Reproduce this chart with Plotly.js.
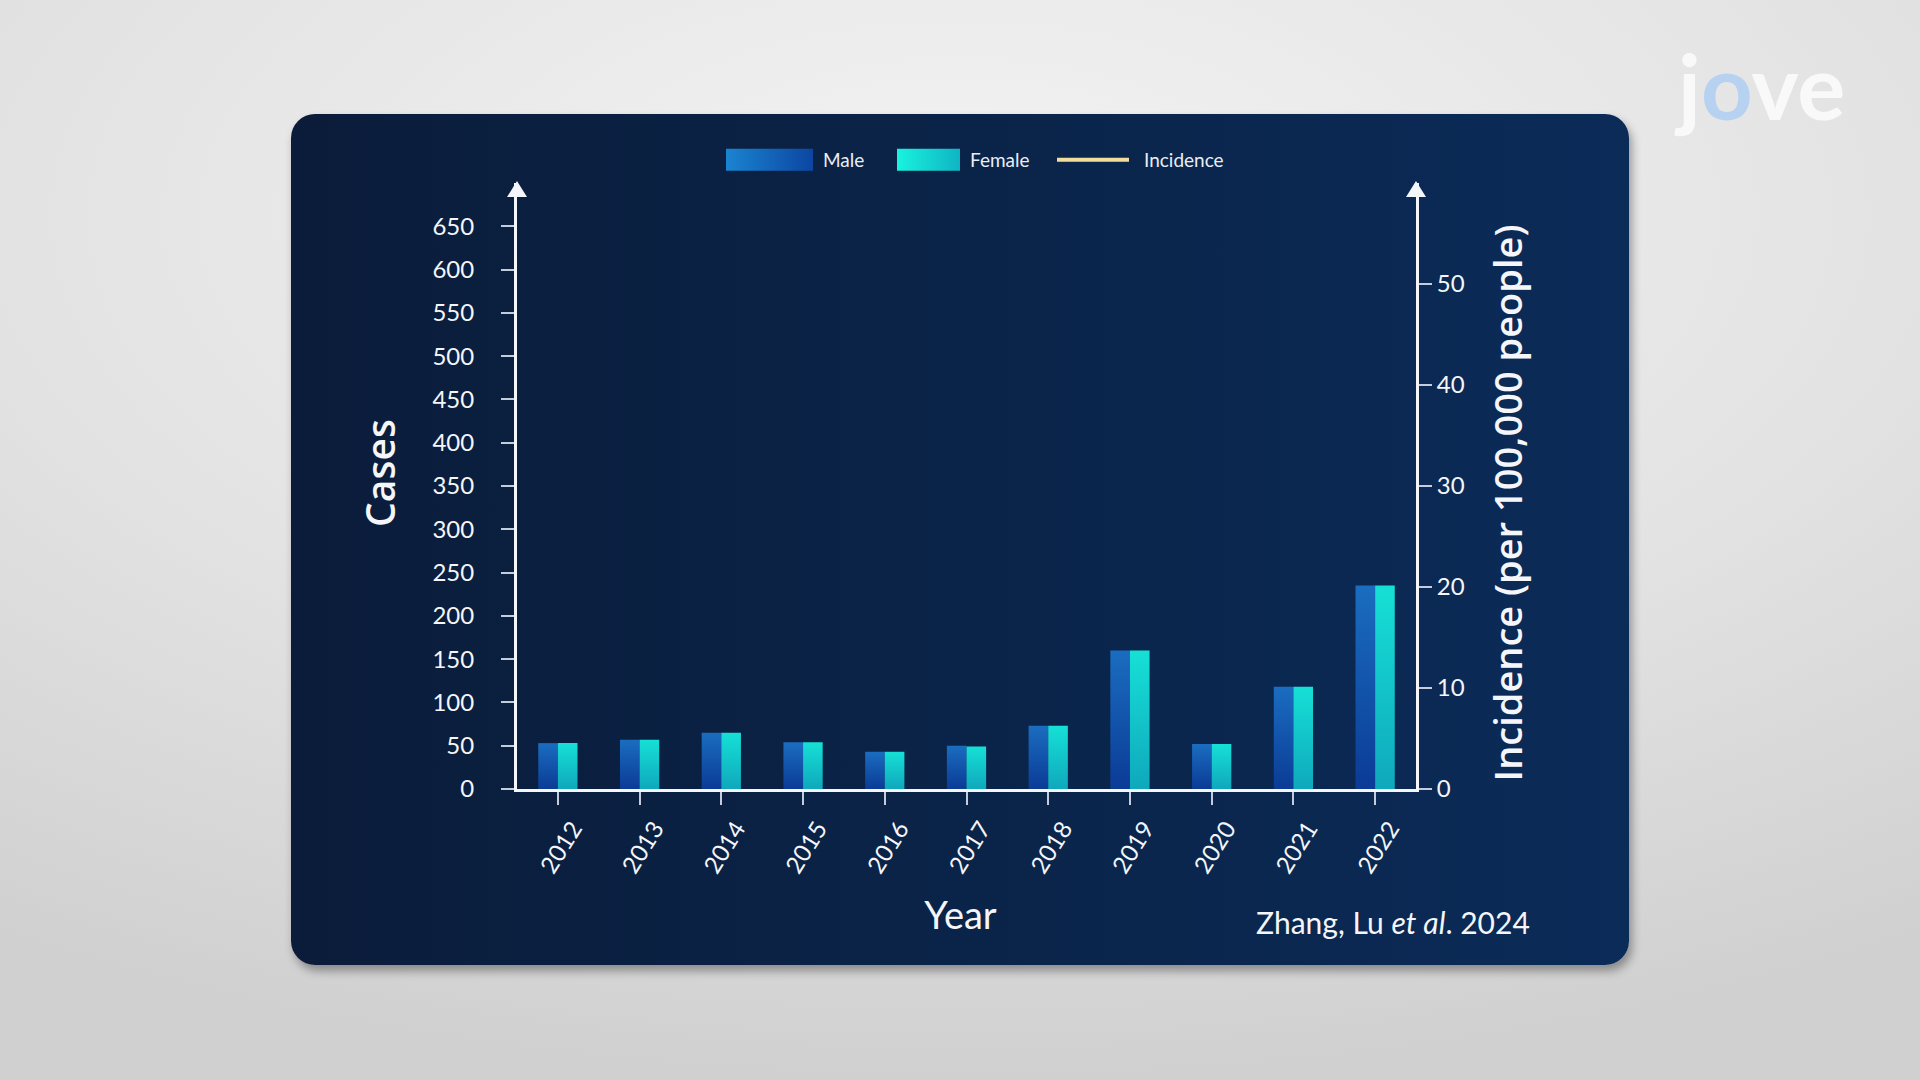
<!DOCTYPE html>
<html><head><meta charset="utf-8">
<script src="https://cdn.plot.ly/plotly-3.0.1.min.js"></script>
<style>
html,body{margin:0;padding:0;width:1920px;height:1080px;overflow:hidden;}
body{background:radial-gradient(ellipse 90% 80% at 50% 20%, #f3f3f3 0%, #e3e3e3 55%, #d0d0d0 100%);}
#card{position:absolute;left:291px;top:114px;width:1338px;height:851px;border-radius:24px;
 background:linear-gradient(90deg,#0b1c3a 0%,#0a2347 45%,#0b2b58 100%);
 box-shadow:3px 6px 10px rgba(0,0,0,0.35);}
#chart{position:absolute;left:0;top:0;width:1920px;height:1080px;}
</style></head>
<body><div id="card"></div><div id="chart"></div>
<script>
// ---- data ----
const years = ['2012','2013','2014','2015','2016','2017','2018','2019','2020','2021','2022'];
const male = [53, 57, 65, 54, 43, 50, 73, 160, 52, 118, 235];
const female = [53, 57, 65, 54, 43, 49, 73, 160, 52, 118, 235];
// the incidence line is not drawn in the reference frame (only its legend entry): no values shown
const incidence = [null, null, null, null, null, null, null, null, null, null, null];
const casesTicks = [0,50,100,150,200,250,300,350,400,450,500,550,600,650];
const incidenceTicks = [0,10,20,30,40,50];

const white = '#f4f6fa';
const tickCol = '#c3cddb';
const lato = 'Lato, "Open Sans", sans-serif';
const osans = '"Open Sans", sans-serif';

const data = [
  {type:'bar', name:'Male', x:years, y:male, yaxis:'y', marker:{color:'#1157ad', line:{width:0}}},
  {type:'bar', name:'Female', x:years, y:female, yaxis:'y', marker:{color:'#12c6cf', line:{width:0}}},
  {type:'scatter', mode:'lines', name:'Incidence', x:years, y:incidence, yaxis:'y2',
   line:{color:'#f3dd9c', width:4}}
];

const layout = {
  width:1920, height:1080,
  paper_bgcolor:'rgba(0,0,0,0)', plot_bgcolor:'rgba(0,0,0,0)',
  margin:{l:517, r:504, t:183, b:291, pad:0},
  barmode:'group', bargap:0.52, bargroupgap:0,
  showlegend:true,
  legend:{orientation:'h', x:0.2258, xanchor:'left', y:1.038, yanchor:'middle',
    font:{family:lato, size:19, color:'#e9eef6'}, itemwidth:80, bgcolor:'rgba(0,0,0,0)', traceorder:'normal'},
  xaxis:{type:'category', range:[-0.5,10.5], showline:true, linecolor:white, linewidth:3,
    ticks:'outside', ticklen:13, tickwidth:2, tickcolor:tickCol, tickangle:-58, ticklabelshift:15,
    tickfont:{family:lato, size:24, color:white}, showgrid:false, zeroline:false,
    title:{text:'Year', font:{family:lato, size:38, color:white}, standoff:26}},
  yaxis:{range:[0,700], tickvals:casesTicks, showline:true, linecolor:white, linewidth:3,
    ticks:'outside', ticklen:13, tickwidth:2, tickcolor:tickCol, ticklabelstandoff:22,
    tickfont:{family:lato, size:24, color:white}, showgrid:false, zeroline:false,
    title:{text:'Cases', font:{family:osans, size:39, weight:600, color:white}, standoff:25}},
  yaxis2:{overlaying:'y', side:'right', range:[0,60], tickvals:incidenceTicks, showline:true, linecolor:white, linewidth:3,
    ticks:'outside', ticklen:13, tickwidth:2, tickcolor:tickCol,
    tickfont:{family:lato, size:24, color:white}, showgrid:false, zeroline:false,
    title:{text:'Incidence (per 100,000 people)', font:{family:osans, size:38, weight:600, color:white}, standoff:26}},
  shapes:[
    {type:'path', xref:'paper', yref:'paper', xsizemode:'pixel', ysizemode:'pixel', xanchor:0, yanchor:1,
     path:'M-10,-14 L10,-14 L0,2 Z', fillcolor:white, line:{width:0}},
    {type:'path', xref:'paper', yref:'paper', xsizemode:'pixel', ysizemode:'pixel', xanchor:1, yanchor:1,
     path:'M-10,-14 L10,-14 L0,2 Z', fillcolor:white, line:{width:0}}
  ],
  annotations:[
    {xref:'paper', yref:'paper', x:1.1295, xanchor:'right', y:-0.2195, yanchor:'middle', showarrow:false,
     text:'Zhang, Lu <i>et al</i>. 2024', font:{family:lato, size:30, color:white}},
    {xref:'paper', yref:'paper', x:1.3826, xanchor:'center', y:1.1617, yanchor:'middle', showarrow:false,
     text:'j<span style="color:#b7d2f0">o</span>ve', font:{family:lato, size:90, weight:700, color:'#f9f9f9'}}
  ]
};

const gd = document.getElementById('chart');
Plotly.newPlot(gd, data, layout, {staticPlot:true}).then(function(){
  const ns = 'http://www.w3.org/2000/svg';
  const svg = gd.querySelector('svg.main-svg');
  const defs = document.createElementNS(ns, 'defs');
  function grad(id, horiz, c1, c2){
    const g = document.createElementNS(ns, 'linearGradient');
    g.setAttribute('id', id);
    g.setAttribute('x1','0'); g.setAttribute('y1','0');
    g.setAttribute('x2', horiz ? '1' : '0'); g.setAttribute('y2', horiz ? '0' : '1');
    [[0,c1],[1,c2]].forEach(function(s){
      const st = document.createElementNS(ns,'stop');
      st.setAttribute('offset', s[0]); st.setAttribute('stop-color', s[1]);
      g.appendChild(st);
    });
    defs.appendChild(g);
  }
  grad('gM', false, '#1a6dc0', '#0b3b96');
  grad('gF', false, '#16e0d6', '#0fa8bc');
  grad('gML', true, '#1a84d0', '#0c46a2');
  grad('gFL', true, '#18f3de', '#10b4c4');
  svg.insertBefore(defs, svg.firstChild);

  const bt = gd.querySelectorAll('.barlayer .trace');
  if (bt[0]) bt[0].querySelectorAll('path').forEach(function(p){ p.style.fill = 'url(#gM)'; });
  if (bt[1]) bt[1].querySelectorAll('path').forEach(function(p){ p.style.fill = 'url(#gF)'; });

  // nudge axis titles to the reference positions
  const nud = [['.g-ytitle', 0, -13], ['.g-y2title', 6, 17], ['.g-xtitle', -6, 0]];
  nud.forEach(function(n){
    const el = gd.querySelector(n[0]);
    if (el) el.setAttribute('transform', 'translate(' + n[1] + ',' + n[2] + ')');
  });

  const sb = gd.querySelector('.legend .scrollbox');
  if (sb) sb.removeAttribute('clip-path');
  const items = gd.querySelectorAll('.legend .traces');
  const textTargets = [823, 970, 1144];
  const sw = [{w:87, gap:10, fill:'url(#gML)'}, {w:63, gap:10, fill:'url(#gFL)'}, {w:72, gap:15}];
  items.forEach(function(it, i){
    if (i > 2) return;
    const txt = it.querySelector('text.legendtext');
    if (!txt) return;
    const r = txt.getBoundingClientRect();
    const dx = textTargets[i] - r.left;
    const tr = it.getAttribute('transform') || '';
    const m = tr.match(/translate\(([-\d.e]+)[ ,]*([-\d.e]+)?\)/);
    if (m) {
      it.setAttribute('transform', 'translate(' + (parseFloat(m[1]) + dx) + ',' + (parseFloat(m[2] || 0)) + ')');
    }
    const tl = txt.getBoundingClientRect().left;
    const s = sw[i];
    if (i < 2) {
      const p = it.querySelector('.legendpoints path');
      if (p) {
        const ctm = p.getScreenCTM();
        const right = tl - s.gap - ctm.e;
        const left = right - s.w;
        p.setAttribute('d', 'M' + left + ',-11H' + right + 'V11H' + left + 'Z');
        p.style.fill = s.fill; p.style.strokeWidth = '0';
      }
    } else {
      const p = it.querySelector('.legendlines path');
      if (p) {
        const ctm = p.getScreenCTM();
        const right = tl - s.gap - ctm.e;
        p.setAttribute('d', 'M' + (right - s.w) + ',0H' + right);
      }
    }
  });
});
</script>
</body></html>
